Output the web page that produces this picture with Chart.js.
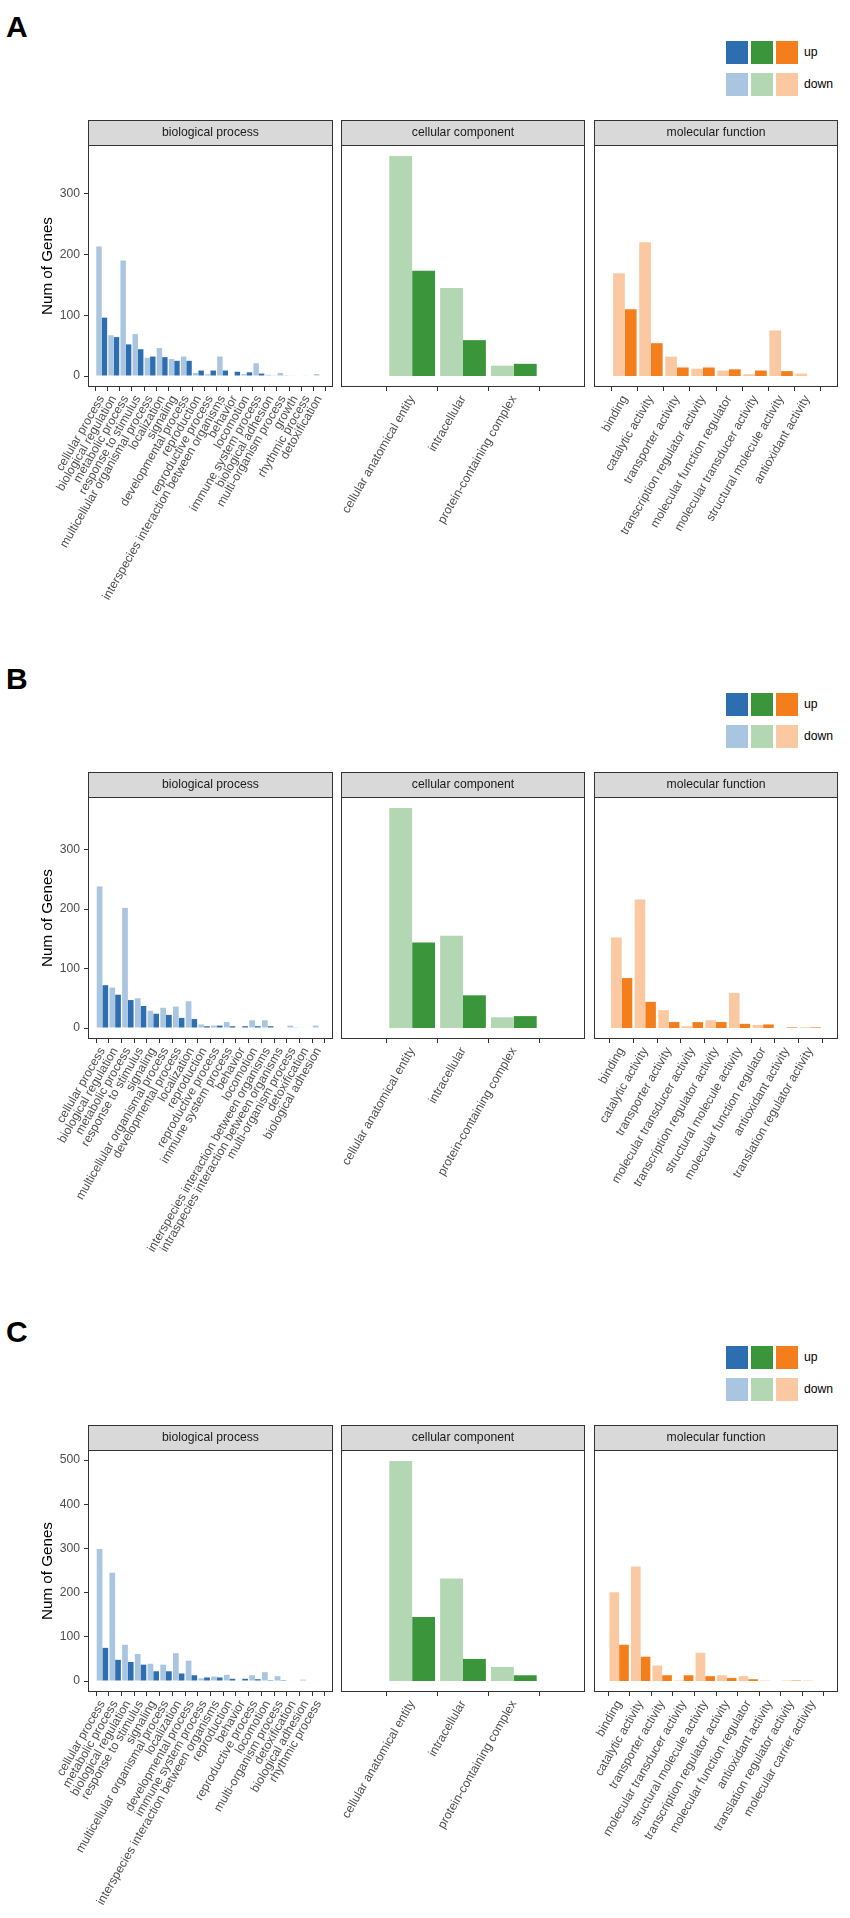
<!DOCTYPE html>
<html>
<head>
<meta charset="utf-8">
<script src="https://cdn.jsdelivr.net/npm/chart.js@4.4.1/dist/chart.umd.min.js"></script>
<style>
  html, body { margin: 0; padding: 0; background: #fff; overflow: hidden; }
  #page { position: relative; width: 850px; height: 1918px; font-family: "Liberation Sans", Arial, sans-serif; }
  #page canvas { position: absolute; left: 0; }
  .tag { position: absolute; left: 6px; font-weight: bold; font-size: 30px; line-height: 30px; color: #000; }
  .key { position: absolute; width: 22px; height: 23px; }
  .keytxt { position: absolute; left: 804px; font-size: 12.2px; line-height: 23px; color: #000; }
</style>
</head>
<body>
<div id="page"></div>
<script>
// ---- data: panel A ----
const bpA_labels = ['cellular process', 'biological regulation', 'metabolic process', 'response to stimulus',
  'multicellular organismal process', 'localization', 'signaling', 'developmental process', 'reproduction',
  'reproductive process', 'interspecies interaction between organisms', 'behavior', 'locomotion',
  'immune system process', 'biological adhesion', 'multi-organism process', 'growth', 'rhythmic process', 'detoxification'];
const bpA_down = [213, 67, 190, 69, 30, 46, 28, 32, 5, 3, 32, 0, 3, 21, 2, 5, 1, 1, 3];
const bpA_up   = [96, 64, 52, 44, 32, 31, 25, 25, 9, 9, 9, 7, 6, 4, 1, 1, 0, 0, 0];

const ccA_labels = ['cellular anatomical entity', 'intracellular', 'protein-containing complex'];
const ccA_down = [362, 145, 17];
const ccA_up   = [173, 59, 20];

const mfA_labels = ['binding', 'catalytic activity', 'transporter activity', 'transcription regulator activity',
  'molecular function regulator', 'molecular transducer activity', 'structural molecule activity', 'antioxidant activity'];
const mfA_down = [169, 220, 32, 12, 9, 3, 75, 4];
const mfA_up   = [110, 54, 14, 14, 11, 9, 8, 0];

// ---- data: panel B ----
const bpB_labels = ['cellular process', 'biological regulation', 'metabolic process', 'response to stimulus',
  'signaling', 'multicellular organismal process', 'developmental process', 'localization', 'reproduction',
  'reproductive process', 'immune system process', 'behavior', 'locomotion',
  'interspecies interaction between organisms', 'intraspecies interaction between organisms',
  'multi-organism process', 'detoxification', 'biological adhesion'];
const bpB_down = [238, 68, 202, 50, 29, 34, 36, 45, 6, 4, 10, 0, 13, 13, 1, 4, 1, 4];
const bpB_up   = [72, 56, 47, 37, 24, 22, 17, 15, 3, 4, 3, 3, 3, 3, 0, 1, 0, 0];

const ccB_labels = ['cellular anatomical entity', 'intracellular', 'protein-containing complex'];
const ccB_down = [370, 155, 18];
const ccB_up   = [144, 55, 20];

const mfB_labels = ['binding', 'catalytic activity', 'transporter activity', 'molecular transducer activity',
  'transcription regulator activity', 'structural molecule activity', 'molecular function regulator',
  'antioxidant activity', 'translation regulator activity'];
const mfB_down = [152, 216, 30, 3, 13, 59, 5, 0, 1];
const mfB_up   = [84, 44, 10, 10, 10, 7, 6, 1, 1];

// ---- data: panel C ----
const bpC_labels = ['cellular process', 'metabolic process', 'biological regulation', 'response to stimulus',
  'signaling', 'multicellular organismal process', 'localization', 'developmental process',
  'immune system process', 'interspecies interaction between organisms', 'reproduction', 'behavior',
  'reproductive process', 'locomotion', 'multi-organism process', 'detoxification', 'biological adhesion', 'rhythmic process'];
const bpC_down = [299, 245, 82, 61, 39, 37, 63, 46, 6, 10, 14, 1, 13, 20, 11, 1, 3, 1];
const bpC_up   = [75, 48, 43, 37, 22, 22, 17, 13, 8, 8, 5, 5, 4, 2, 2, 0, 0, 0];

const ccC_labels = ['cellular anatomical entity', 'intracellular', 'protein-containing complex'];
const ccC_down = [498, 232, 32];
const ccC_up   = [145, 50, 13];

const mfC_labels = ['binding', 'catalytic activity', 'transporter activity', 'molecular transducer activity',
  'structural molecule activity', 'transcription regulator activity', 'molecular function regulator',
  'antioxidant activity', 'translation regulator activity', 'molecular carrier activity'];
const mfC_down = [201, 259, 35, 1, 64, 13, 11, 1, 1, 1];
const mfC_up   = [82, 55, 13, 13, 11, 7, 4, 0, 1, 0];

const facetNames = ['biological process', 'cellular component', 'molecular function'];
const tags = ['A', 'B', 'C'];

// up / down colours per facet
const blue   = ['#2c6eaf', '#aac5e0'];
const green  = ['#3b963b', '#b3d6b3'];
const orange = ['#f47e1c', '#fac9a2'];

const FONT = '"Liberation Sans", Arial, sans-serif';
const TXT = 12.2;
const page = document.getElementById('page');
const rowTop = [0, 652, 1305];
const panelX = [[88, 333], [341, 585], [594, 838]];

// strip + panel border, drawn like ggplot facets
const facetPlugin = {
  id: 'facet',
  afterDraw(chart, args, opts) {
    const { ctx, chartArea: a } = chart;
    ctx.save();
    ctx.fillStyle = '#d9d9d9';
    ctx.fillRect(a.left, a.top - 25, a.width, 25);
    ctx.strokeStyle = '#333';
    ctx.lineWidth = 1;
    ctx.strokeRect(a.left + 0.5, a.top - 24.5, a.width - 1, 25);
    ctx.strokeRect(a.left + 0.5, a.top + 0.5, a.width - 1, a.height - 1);
    ctx.fillStyle = '#1a1a1a';
    ctx.font = TXT + 'px ' + FONT;
    ctx.textAlign = 'center';
    ctx.textBaseline = 'middle';
    ctx.fillText(opts.title, (a.left + a.right) / 2, a.top - 12);
    ctx.restore();
  }
};

function makePanel(top, box, title, labels, down, up, col, yLim, showY) {
  const cv = document.createElement('canvas');
  cv.width = 850; cv.height = 500;
  cv.style.top = top + 'px';
  page.appendChild(cv);
  const n = labels.length;
  return new Chart(cv, {
    type: 'bar',
    data: {
      datasets: [
        { label: 'down', data: down.map((v, i) => ({ x: i, y: v })), backgroundColor: col[1],
          categoryPercentage: 0.9, barPercentage: 1.0 },
        { label: 'up', data: up.map((v, i) => ({ x: i, y: v })), backgroundColor: col[0],
          categoryPercentage: 0.9, barPercentage: 1.0 }
      ]
    },
    options: {
      responsive: false,
      animation: false,
      events: [],
      layout: { padding: { left: showY ? 36 : box[0], right: 850 - box[1], top: 35, bottom: 0 } },
      plugins: { legend: { display: false }, tooltip: { enabled: false }, facet: { title: title } },
      scales: {
        x: {
          type: 'linear', min: -0.6, max: n - 0.4,
          afterBuildTicks: s => { s.ticks = labels.map((_, i) => ({ value: i })); },
          afterFit: s => { s.height = 223; s.paddingLeft = 0; s.paddingRight = 0; },
          grid: { drawOnChartArea: false, drawTicks: true, tickLength: 4, color: '#333' },
          border: { display: false },
          ticks: { autoSkip: false, minRotation: 60, maxRotation: 60, padding: 2, color: '#4d4d4d',
                   font: { size: TXT, family: FONT }, callback: v => labels[v] }
        },
        y: {
          display: showY, min: yLim[0], max: yLim[1],
          afterBuildTicks: s => {
            const t = [];
            for (let v = 0; v <= yLim[1]; v += 100) t.push({ value: v });
            s.ticks = t;
          },
          afterFit: s => { s.width = showY ? 52 : 0; s.paddingTop = 0; s.paddingBottom = 0; },
          grid: { drawOnChartArea: false, drawTicks: true, tickLength: 4, color: '#333' },
          border: { display: false },
          ticks: { padding: 4, color: '#4d4d4d', font: { size: TXT, family: FONT } },
          title: { display: true, text: 'Num of Genes', color: '#000',
                   font: { size: 15.2, family: FONT }, padding: { top: 3, bottom: 4 } }
        }
      }
    },
    plugins: [facetPlugin]
  });
}

const rows = [
  [[bpA_labels, bpA_down, bpA_up], [ccA_labels, ccA_down, ccA_up], [mfA_labels, mfA_down, mfA_up]],
  [[bpB_labels, bpB_down, bpB_up], [ccB_labels, ccB_down, ccB_up], [mfB_labels, mfB_down, mfB_up]],
  [[bpC_labels, bpC_down, bpC_up], [ccC_labels, ccC_down, ccC_up], [mfC_labels, mfC_down, mfC_up]]
];
const cols = [blue, green, orange];

rows.forEach((row, r) => {
  const dy = rowTop[r];
  // shared y range of the row, ggplot-style 5% expansion
  const maxV = Math.max(...row.flatMap(f => f[1].concat(f[2])));
  const yLim = [-0.05 * maxV, 1.05 * maxV];
  row.forEach((f, k) => {
    makePanel(dy + 110, panelX[k], facetNames[k], f[0], f[1], f[2], cols[k], yLim, k === 0);
  });

  // tag letter
  const t = document.createElement('div');
  t.className = 'tag';
  t.style.top = (dy + 11.5) + 'px';
  t.textContent = tags[r];
  page.appendChild(t);

  // legend: up row (dark), down row (light)
  [['up', 0, 41], ['down', 1, 73]].forEach(([txt, shade, ky]) => {
    cols.forEach((c, j) => {
      const s = document.createElement('div');
      s.className = 'key';
      s.style.left = (726 + j * 25) + 'px';
      s.style.top = (dy + ky) + 'px';
      s.style.background = c[shade];
      page.appendChild(s);
    });
    const l = document.createElement('div');
    l.className = 'keytxt';
    l.style.top = (dy + ky) + 'px';
    l.textContent = txt;
    page.appendChild(l);
  });
});
</script>
</body>
</html>
